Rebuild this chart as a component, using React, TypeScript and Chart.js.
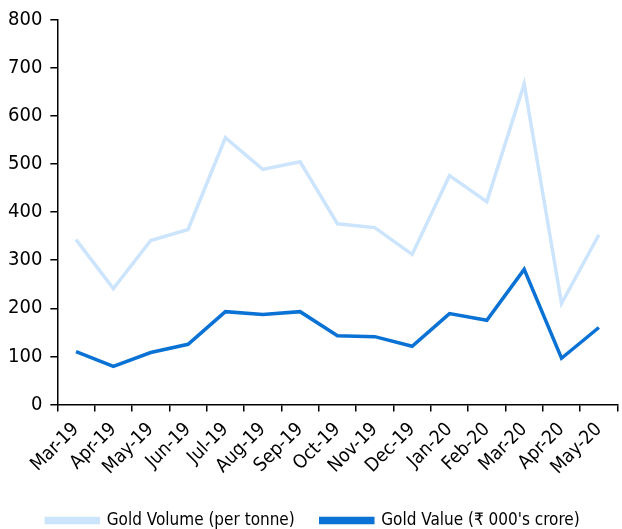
import React, { useEffect, useRef } from "react";
import { Chart, registerables } from "chart.js";
Chart.register(...registerables);

const categories = ["Mar-19","Apr-19","May-19","Jun-19","Jul-19","Aug-19","Sep-19","Oct-19","Nov-19","Dec-19","Jan-20","Feb-20","Mar-20","Apr-20","May-20"];
const goldVolume = [343, 241, 341, 364, 555, 489, 505, 376, 368, 312, 476, 422, 667, 210, 353];
const goldValue = [110, 79, 108, 125, 193, 187, 193, 143, 141, 121, 189, 175, 281, 96, 160];
const seriesNames = ["Gold Volume (per tonne)", "Gold Value (₹ 000's crore)"];

const FONT = "'DejaVu Sans Condensed', 'Liberation Sans Narrow', sans-serif";

export default function App() {
  const ref = useRef<HTMLCanvasElement>(null);
  useEffect(() => {
    const chart = new Chart(ref.current!, {
      type: "line",
      data: {
        labels: categories,
        datasets: [
          { label: seriesNames[0], data: goldVolume, borderColor: "#CCE5FC", backgroundColor: "#CCE5FC", borderWidth: 3.5, pointRadius: 0, tension: 0 },
          { label: seriesNames[1], data: goldValue, borderColor: "#0A72D4", backgroundColor: "#0A72D4", borderWidth: 3.5, pointRadius: 0, tension: 0 },
        ],
      },
      options: {
        animation: false,
        responsive: true,
        maintainAspectRatio: false,
        layout: { padding: { top: 11, right: -4, left: 0, bottom: 0 } },
        plugins: {
          tooltip: { enabled: false },
          legend: {
            position: "bottom",
            labels: { font: { family: FONT, size: 17 }, color: "#000", boxWidth: 52, boxHeight: 4, padding: 26 },
          },
        },
        scales: {
          x: {
            offset: true,
            grid: { display: true, offset: true, drawOnChartArea: false, color: "#000", tickLength: 7, lineWidth: 1.5 },
            border: { color: "#000", width: 1.5 },
            ticks: { font: { family: FONT, size: 19 }, color: "#000", maxRotation: 45, minRotation: 45, autoSkip: false, padding: 7 },
          },
          y: {
            min: 0, max: 800,
            grid: { display: true, drawOnChartArea: false, color: "#000", tickLength: 7, lineWidth: 1.5 },
            border: { color: "#000", width: 1.5 },
            ticks: { stepSize: 100, font: { family: FONT, size: 20 }, color: "#000", padding: 8 },
          },
        },
      },
    });
    return () => chart.destroy();
  }, []);
  return (
    <div style={{ position: "fixed", left: 0, top: 0, width: 622, height: 529, overflow: "hidden" }}>
      <div style={{ position: "relative", width: 622, height: 539 }}>
        <canvas ref={ref} />
      </div>
    </div>
  );
}
